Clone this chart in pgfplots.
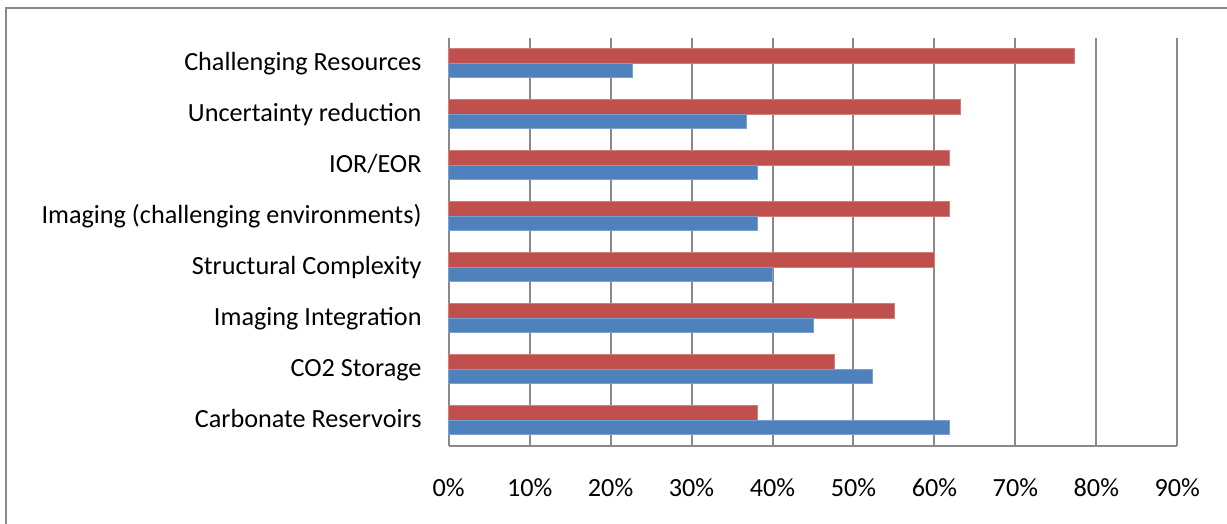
\documentclass[border=0pt]{standalone}
\usepackage{fontspec}
\setmainfont{Carlito}
\usepackage{pgfplots}
\pgfplotsset{compat=1.18}
\definecolor{barred}{HTML}{C0504D}
\definecolor{barblue}{HTML}{4F81BD}
\definecolor{gridgray}{HTML}{898989}
\begin{document}
\begin{tikzpicture}
\begin{axis}[
  at={(0,0)}, anchor=south west,
  scale only axis,
  width=728.6bp, height=408bp,
  xbar,
  xmin=0, xmax=90,
  ymin=-0.5, ymax=7.5,
  xtick={0,10,...,90},
  xticklabels={0\%,10\%,20\%,30\%,40\%,50\%,60\%,70\%,80\%,90\%},
  ytick={0,...,7},
  yticklabels={Carbonate Reservoirs,CO2 Storage,Imaging Integration,Structural Complexity,Imaging (challenging environments),IOR/EOR,Uncertainty reduction,Challenging Resources},
  major tick length=0pt,
  tick label style={font=\fontsize{26.2bp}{30bp}\selectfont, inner sep=0pt},
  xticklabel style={anchor=base, yshift=-50.3bp},
  yticklabel style={anchor=base east, xshift=-27bp, yshift=-7.7bp},
  xmajorgrids,
  grid style={gridgray, line width=2bp},
  axis x line*=bottom,
  axis y line*=left,
  axis line style={gridgray, line width=2bp, -},
  bar width=14.5bp,
  clip=false,
]
\addplot[fill=barred, draw=barred!75!white, line width=0.8bp, bar shift=7.25bp]
  coordinates {(38.1,0) (47.6,1) (55.0,2) (60.0,3) (61.9,4) (61.9,5) (63.2,6) (77.3,7)};
\addplot[fill=barblue, draw=barblue!75!white, line width=0.8bp, bar shift=-7.25bp]
  coordinates {(61.9,0) (52.4,1) (45.0,2) (40.0,3) (38.1,4) (38.1,5) (36.8,6) (22.7,7)};
\end{axis}
% outer chart frame
\draw[gridgray, line width=2bp] (-442.7bp,-200bp) -- (-442.7bp,437.7bp) -- (900bp,437.7bp);
\pgfresetboundingbox
\path[use as bounding box] (-448.7bp,-78.3bp) rectangle (778.3bp,445.7bp);
\end{tikzpicture}
\end{document}
